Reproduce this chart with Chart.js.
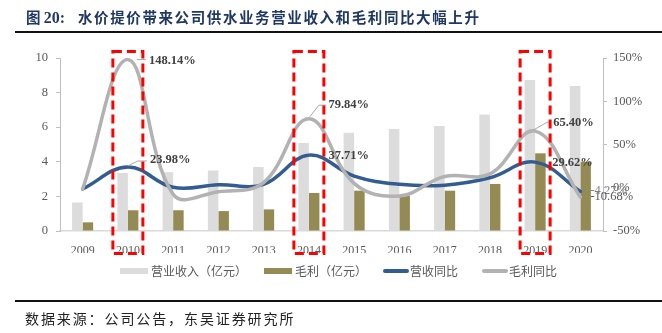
<!DOCTYPE html>
<html>
<head>
<meta charset="utf-8">
<script src="https://cdn.jsdelivr.net/npm/chart.js@4.4.1/dist/chart.umd.min.js"></script>
<style>
    html, body { margin: 0; padding: 0; background: #fff; }
    .page { position: relative; width: 662px; height: 333px; overflow: hidden; }
    #chart { position: absolute; left: 0; top: 0; }
    .title {
        position: absolute; top: 6px; line-height: 20px;
        font: bold 14.5px "Noto Sans CJK SC", sans-serif;
        color: #1f3864; white-space: nowrap;
    }
    .title .num { font-family: "Liberation Serif", serif; font-size: 16px; }
    .title.text { letter-spacing: 1.6px; }
    .rule-top { position: absolute; left: 15px; right: 0; top: 31px; height: 2px; background: #111; }
    .rule-bottom { position: absolute; left: 15px; right: 0; top: 300px; height: 1.5px; background: #111; }
    .source {
        position: absolute; left: 25px; top: 308px; line-height: 20px;
        font: 14px "Noto Sans CJK SC", sans-serif; color: #222; white-space: nowrap;
        letter-spacing: 1.9px;
    }
</style>
</head>
<body>
<div class="page">
    <canvas id="chart" width="662" height="333"></canvas>
    <div class="title" style="left:26px">图 <span class="num">20:</span></div>
    <div class="title text" style="left:78px">水价提价带来公司供水业务营业收入和毛利同比大幅上升</div>
    <div class="rule-top"></div>
    <div class="rule-bottom"></div>
    <div class="source">数据来源：公司公告，东吴证券研究所</div>
</div>
<script>
// Data
const years = ['2009', '2010', '2011', '2012', '2013', '2014', '2015', '2016', '2017', '2018', '2019', '2020'];
const revenue = [1.65, 3.35, 3.40, 3.50, 3.70, 5.08, 5.68, 5.90, 6.07, 6.74, 8.73, 8.38];
const grossProfit = [0.50, 1.20, 1.20, 1.15, 1.25, 2.20, 2.33, 2.05, 2.33, 2.72, 4.49, 4.00];
const revenueYoY = [-1.5, 23.98, 0.5, 3.5, 4.0, 37.71, 13.5, 4.0, 3.0, 11.5, 29.62, -4.27];
const grossProfitYoY = [-1.5, 148.14, -7.5, -4.5, 6.0, 79.84, 5.0, -9.5, 13.0, 16.0, 65.40, -10.68];
const leftTicks = [0, 2, 4, 6, 8, 10];
const rightTicks = [-50, 0, 50, 100, 150];
const highlightYears = ['2010', '2014', '2019'];

const seriesNames = ['营业收入（亿元）', '毛利（亿元）', '营收同比', '毛利同比'];

// Which line points carry a value label, and where the text sits
const labelSpots = [
    { ds: 3, i: 1, dx: 21, dy: 1.5, bold: true, leader: [[9, 0], [18, 0]] },
    { ds: 2, i: 1, dx: 22, dy: -7.5, bold: true, leader: [[0, -1], [10, -6], [19, -6]] },
    { ds: 3, i: 5, dx: 19.5, dy: -13.5, bold: true, leader: [[1, -2], [10, -13.5], [17, -13.5]] },
    { ds: 2, i: 5, dx: 19.5, dy: 1, bold: true },
    { ds: 3, i: 10, dx: 18, dy: -8, bold: true, leader: [[-2, -1], [12, -9], [16, -9]] },
    { ds: 2, i: 10, dx: 17, dy: 1, bold: true },
    { ds: 2, i: 11, dx: 10, dy: -0.5, bold: false, color: '#7f7f7f' },
    { ds: 3, i: 11, dx: 10, dy: 0, bold: false, color: '#595959' }
];

const serif = '"Liberation Serif", "Times New Roman", serif';
const axisGray = '#bfbfbf';

// Value labels with short leader lines
const valueLabels = {
    id: 'valueLabels',
    afterDatasetsDraw(chart) {
        const ctx = chart.ctx;
        ctx.save();
        labelSpots.forEach(s => {
            const pt = chart.getDatasetMeta(s.ds).data[s.i];
            const value = chart.data.datasets[s.ds].data[s.i];
            if (s.leader) {
                ctx.strokeStyle = '#a6a6a6';
                ctx.lineWidth = 1;
                ctx.beginPath();
                s.leader.forEach((p, k) => {
                    if (k === 0) ctx.moveTo(pt.x + p[0], pt.y + p[1]);
                    else ctx.lineTo(pt.x + p[0], pt.y + p[1]);
                });
                ctx.stroke();
            }
            ctx.font = (s.bold ? 'bold ' : '') + '12.5px ' + serif;
            ctx.fillStyle = s.color || '#404040';
            ctx.textAlign = 'left';
            ctx.textBaseline = 'middle';
            ctx.fillText(value.toFixed(2) + '%', pt.x + s.dx, pt.y + s.dy);
        });
        ctx.restore();
    }
};

// Red dashed frames round the highlighted years
const highlightFrames = {
    id: 'highlightFrames',
    afterDraw(chart) {
        const ctx = chart.ctx;
        const x = chart.scales.x;
        const half = 15;
        ctx.save();
        ctx.strokeStyle = '#ff0000';
        ctx.lineWidth = 3;
        ctx.setLineDash([9, 5]);
        highlightYears.forEach(y => {
            const cx = x.getPixelForValue(years.indexOf(y));
            ctx.strokeRect(cx - half, 51.5, half * 2, 202);
        });
        ctx.restore();
    }
};

// Legend row under the axis
const legendRow = {
    id: 'legendRow',
    afterDraw(chart) {
        const ctx = chart.ctx;
        const y = 271;
        const starts = [120, 264, 383, 482];
        ctx.save();
        ctx.font = '12px "Noto Sans CJK SC", sans-serif';
        ctx.textBaseline = 'middle';
        ctx.textAlign = 'left';
        chart.data.datasets.forEach((ds, k) => {
            const x0 = starts[k];
            if (ds.type === 'bar') {
                ctx.fillStyle = ds.backgroundColor;
                ctx.fillRect(x0, y - 3, 28, 6);
                ctx.fillStyle = '#595959';
                ctx.fillText(ds.label, x0 + 31, y);
            } else {
                ctx.strokeStyle = ds.borderColor;
                ctx.lineWidth = 4;
                ctx.lineCap = 'round';
                ctx.beginPath();
                ctx.moveTo(x0 + 2, y);
                ctx.lineTo(x0 + 24, y);
                ctx.stroke();
                ctx.fillStyle = '#595959';
                ctx.fillText(ds.label, x0 + 27, y);
            }
        });
        ctx.restore();
    }
};

new Chart(document.getElementById('chart'), {
    data: {
        labels: years,
        datasets: [
            {
                type: 'bar', label: seriesNames[0], data: revenue, yAxisID: 'y',
                backgroundColor: '#dcdcdc', order: 3,
                barPercentage: 1, categoryPercentage: 0.465
            },
            {
                type: 'bar', label: seriesNames[1], data: grossProfit, yAxisID: 'y',
                backgroundColor: '#948a54', order: 3,
                barPercentage: 1, categoryPercentage: 0.465
            },
            {
                type: 'line', label: seriesNames[2], data: revenueYoY, yAxisID: 'y1',
                borderColor: '#335d92', borderWidth: 3.5, tension: 0.4,
                pointRadius: 0, borderCapStyle: 'round', order: 1
            },
            {
                type: 'line', label: seriesNames[3], data: grossProfitYoY, yAxisID: 'y1',
                borderColor: '#b2b2b2', borderWidth: 3.5, tension: 0.4,
                pointRadius: 0, borderCapStyle: 'round', order: 0
            }
        ]
    },
    options: {
        responsive: false,
        animation: false,
        layout: { padding: { top: 58, bottom: 80, left: 0, right: 0 } },
        plugins: {
            legend: { display: false },
            tooltip: { enabled: false }
        },
        scales: {
            x: {
                grid: { display: false },
                border: { display: true, color: '#d9d9d9', width: 1.5 },
                ticks: { color: '#595959', font: { family: serif, size: 12 }, padding: 5, maxRotation: 0 },
                afterFit(s) { s.height = 22; }
            },
            y: {
                position: 'left',
                min: 0, max: 10,
                afterBuildTicks(s) { s.ticks = leftTicks.map(v => ({ value: v })); },
                grid: { drawOnChartArea: false, drawTicks: true, tickLength: 4, color: axisGray },
                border: { display: true, color: axisGray },
                ticks: { color: '#595959', font: { family: serif, size: 12.5 }, padding: 8 },
                afterFit(s) { s.width = 60; }
            },
            y1: {
                position: 'right',
                min: -50, max: 150,
                afterBuildTicks(s) { s.ticks = rightTicks.map(v => ({ value: v })); },
                grid: { drawOnChartArea: false, drawTicks: true, tickLength: 4, color: axisGray },
                border: { display: true, color: axisGray },
                ticks: {
                    color: '#595959', font: { family: serif, size: 12.5 }, padding: 6,
                    callback: v => v + '%'
                },
                afterFit(s) { s.width = 59; }
            }
        }
    },
    plugins: [valueLabels, highlightFrames, legendRow]
});
</script>
</body>
</html>
